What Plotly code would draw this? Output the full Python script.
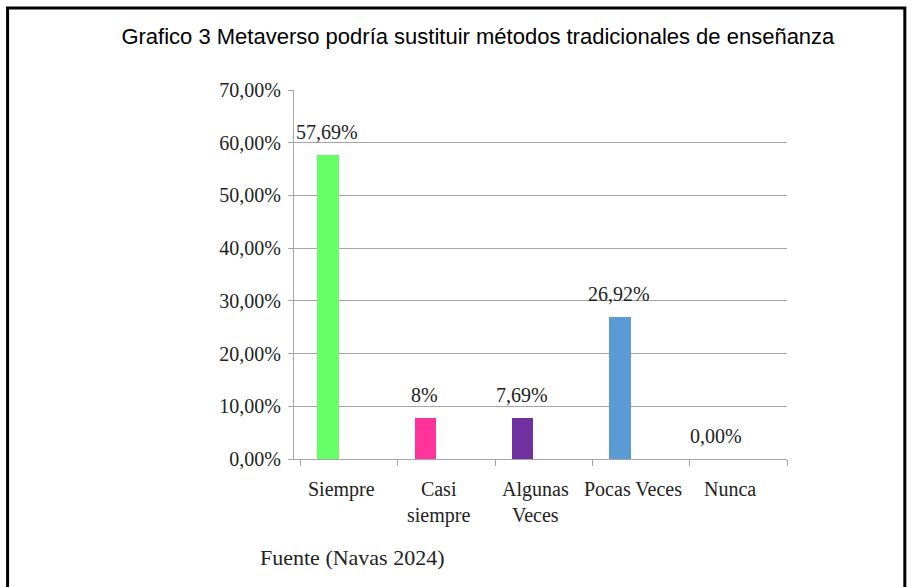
import plotly.graph_objects as go

categories = ["Siempre", "Casi siempre", "Algunas Veces", "Pocas Veces", "Nunca"]
tick_text = ["Siempre", "Casi<br>siempre", "Algunas<br>Veces", "Pocas Veces", "Nunca"]
values = [57.69, 7.69, 7.69, 26.92, 0.0]
value_labels = ["57,69%", "8%", "7,69%", "26,92%", "0,00%"]
bar_colors = ["#66FF66", "#FF3399", "#7030A0", "#5B9BD5", "#ED7D31"]

SERIF = "Liberation Serif, Times New Roman, serif"
SANS = "Liberation Sans Narrow, Arial Narrow, Liberation Sans, Arial, sans-serif"
GRID = "#A6A6A6"

fig = go.Figure()

fig.add_trace(
    go.Bar(
        x=categories,
        y=values,
        marker=dict(color=bar_colors, line=dict(width=0)),
        width=0.22,
        offset=-0.325,
        hoverinfo="skip",
        showlegend=False,
    )
)

# data labels above each bar
for cat, val, lab in zip(categories, values, value_labels):
    fig.add_annotation(
        x=cat, y=val, text=lab,
        showarrow=False,
        xshift=-22, yshift=23,
        yanchor="middle",
        font=dict(family=SERIF, size=20, color="#222222"),
    )

# category labels (drawn as annotations so they can sit slightly left, like the original)
for cat, lab in zip(categories, tick_text):
    fig.add_annotation(
        x=cat, xref="x", y=0, yref="paper", text=lab,
        showarrow=False,
        xshift=-8, yshift=-17,
        yanchor="top",
        font=dict(family=SERIF, size=20, color="#222222"),
    )

fig.add_annotation(
    xref="paper", yref="paper",
    x=-0.073, y=-0.268,
    xanchor="left", yanchor="middle",
    text="Fuente (Navas 2024)",
    showarrow=False,
    font=dict(family=SERIF, size=22, color="#222222"),
)

# outer frame
fig.add_shape(
    type="rect", xref="paper", yref="paper",
    x0=-0.581, x1=1.239, y0=-0.45, y1=1.222,
    line=dict(color="black", width=3),
    layer="above",
)

fig.update_layout(
    width=912,
    height=587,
    paper_bgcolor="white",
    plot_bgcolor="white",
    separators=",.",
    margin=dict(l=294, r=125, t=90, b=128),
    title=dict(
        text="Grafico 3 Metaverso podría sustituir métodos tradicionales de enseñanza",
        x=0.524, xanchor="center",
        y=1 - 36 / 587, yanchor="middle",
        font=dict(family=SANS, size=22, color="black"),
    ),
    bargap=0,
)

fig.update_xaxes(
    tickvals=categories,
    showticklabels=False,
    tickson="boundaries",
    ticks="outside",
    ticklen=6,
    tickcolor=GRID,
    showline=True,
    linecolor=GRID,
    linewidth=1,
    showgrid=False,
)

fig.update_yaxes(
    range=[0, 70],
    dtick=10,
    tickformat=".2f",
    ticksuffix="%",
    ticks="outside",
    ticklen=5,
    tickcolor=GRID,
    ticklabelstandoff=3,
    showline=True,
    linecolor=GRID,
    linewidth=1,
    showgrid=True,
    gridcolor=GRID,
    gridwidth=1,
    zeroline=False,
    tickfont=dict(family=SERIF, size=20, color="#222222"),
)

fig.write_html(
    "out.html",
    config={"displayModeBar": False},
    post_script="document.body.style.margin = '0';",
)
